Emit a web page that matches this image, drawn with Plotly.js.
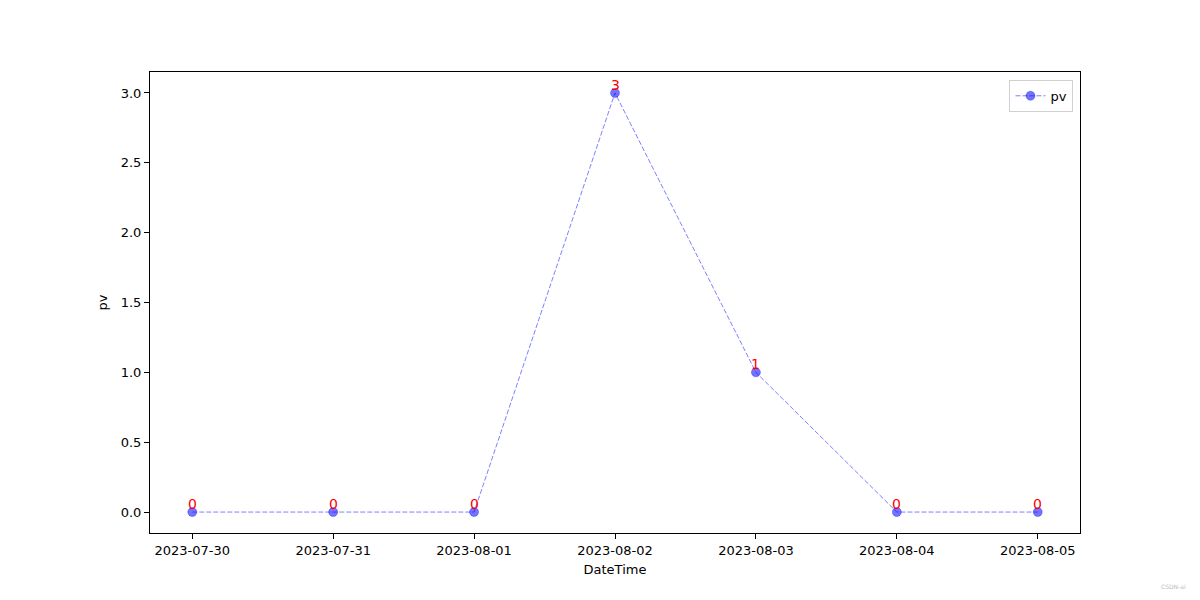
<!DOCTYPE html>
<html>
<head>
<meta charset="utf-8">
<script src="https://cdn.plot.ly/plotly-3.0.1.min.js"></script>
<style>
  body { margin: 0; background: #fff; }
  #chart { width: 1200px; height: 600px; }
</style>
</head>
<body>
<div id="chart"></div>
<script>
let dates = ['2023-07-30', '2023-07-31', '2023-08-01', '2023-08-02', '2023-08-03', '2023-08-04', '2023-08-05']
let pv = [0, 0, 0, 3, 1, 0, 0]

main();

function main() {
    let font = 'DejaVu Sans, sans-serif'

    let trace = {
        x: dates,
        y: pv,
        type: 'scatter',
        mode: 'lines+markers',
        name: 'pv',
        line: {color: 'rgba(0,0,255,0.5)', width: 1, dash: '5px,2px'},
        marker: {color: 'rgba(0,0,255,0.55)', size: 9,
                 line: {color: 'rgba(0,0,255,0.3)', width: 1}}
    };

    // value labels above each point, like plt.text
    let labels = dates.map((d, i) => ({
        x: d,
        y: pv[i],
        xref: 'x',
        yref: 'y',
        text: String(pv[i]),
        showarrow: false,
        yanchor: 'bottom',
        yshift: -2,
        font: {family: font, size: 14, color: 'red'}
    }));

    // tiny watermark in the bottom right corner
    labels.push({
        x: 1.116, y: -0.128, xref: 'paper', yref: 'paper',
        xanchor: 'right', yanchor: 'bottom',
        text: 'CSDN-ai', showarrow: false,
        font: {family: font, size: 6, color: '#bbbbbb'}
    });

    let layout = {
        width: 1200,
        height: 600,
        margin: {l: 150, r: 120, t: 72, b: 67},
        paper_bgcolor: 'white',
        plot_bgcolor: 'white',
        font: {family: font, size: 13, color: 'black'},
        xaxis: {
            type: 'date',
            range: ['2023-07-29 16:48', '2023-08-05 07:12'],
            tickvals: dates,
            tickformat: '%Y-%m-%d',
            ticks: 'outside',
            ticklen: 5,
            tickcolor: 'black',
            showgrid: false,
            zeroline: false,
            showline: true,
            mirror: true,
            linecolor: 'black',
            linewidth: 1,
            title: {text: 'DateTime', font: {size: 13}, standoff: 8}
        },
        yaxis: {
            range: [-0.15, 3.15],
            tickvals: [0, 0.5, 1, 1.5, 2, 2.5, 3],
            ticktext: ['0.0', '0.5', '1.0', '1.5', '2.0', '2.5', '3.0'],
            ticks: 'outside',
            ticklen: 5,
            tickcolor: 'black',
            showgrid: false,
            zeroline: false,
            showline: true,
            mirror: true,
            linecolor: 'black',
            linewidth: 1,
            title: {text: 'pv', font: {size: 13}, standoff: 10}
        },
        showlegend: true,
        legend: {
            x: 0.993, y: 0.983,
            xanchor: 'right', yanchor: 'top',
            bordercolor: '#d0d0d0',
            borderwidth: 1,
            bgcolor: 'rgba(255,255,255,0.8)',
            font: {size: 13}
        },
        annotations: labels
    };

    Plotly.newPlot('chart', [trace], layout, {displayModeBar: false});
}
</script>
</body>
</html>
